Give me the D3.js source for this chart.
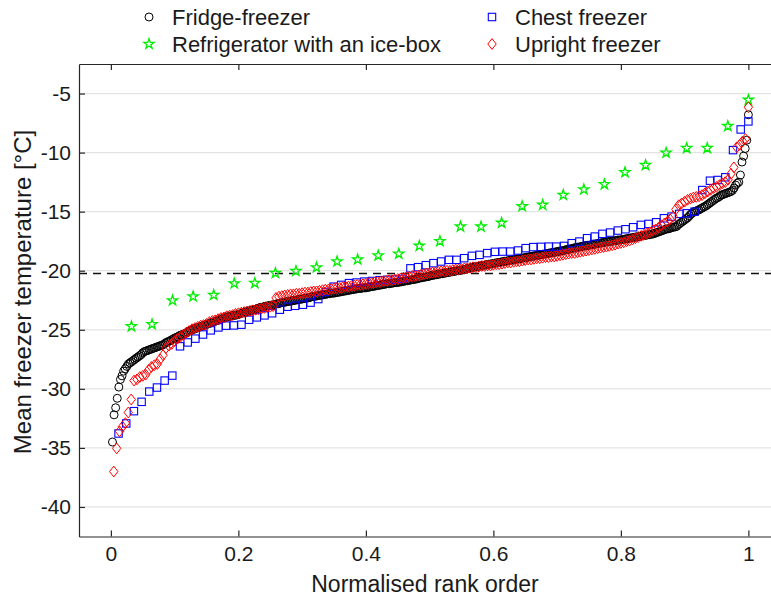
<!DOCTYPE html>
<html><head><meta charset="utf-8">
<script src="https://cdn.jsdelivr.net/npm/d3@7"></script>
<style>body{margin:0;background:#fff} svg{display:block} text{font-family:"Liberation Sans",Arial,Helvetica,sans-serif;fill:#1a1a1a}</style>
</head><body>
<svg id="c" width="771" height="603"></svg>
<script>
// ---------- DATA ----------
const seriesNames = ["Fridge-freezer", "Refrigerator with an ice-box", "Chest freezer", "Upright freezer"];
const xTicks = [0, 0.2, 0.4, 0.6, 0.8, 1];
const yTicks = [-40, -35, -30, -25, -20, -15, -10, -5];
const referenceTemp = -20.24;

const fridgeFreezer = [
-34.5,-32.2,-31.6,-30.8,-29.85,-29.2,-28.9,-28.5,-28.3,-28.1,-27.9,-27.8,-27.7,-27.6,-27.5,-27.4,-27.3,-27.2,-27.1,-26.95,
-26.85,-26.8,-26.75,-26.7,-26.65,-26.6,-26.55,-26.5,-26.45,-26.4,-26.35,-26.3,-26.25,-26.15,-26.05,-26.0,-25.95,-25.85,-25.8,-25.7,
-25.65,-25.6,-25.5,-25.45,-25.4,-25.35,-25.3,-25.2,-25.1,-25.05,-25.0,-24.95,-24.9,-24.85,-24.8,-24.75,-24.7,-24.65,-24.6,-24.55,
-24.5,-24.45,-24.4,-24.35,-24.3,-24.25,-24.2,-24.15,-24.1,-24.05,-24.0,-23.95,-23.9,-23.9,-23.85,-23.8,-23.8,-23.75,-23.75,-23.7,
-23.65,-23.6,-23.55,-23.5,-23.5,-23.45,-23.4,-23.35,-23.3,-23.3,-23.25,-23.2,-23.15,-23.1,-23.1,-23.05,-23.0,-23.0,-22.95,-22.95,
-22.9,-22.9,-22.85,-22.8,-22.8,-22.75,-22.7,-22.7,-22.65,-22.65,-22.6,-22.6,-22.55,-22.55,-22.5,-22.5,-22.45,-22.45,-22.4,-22.4,
-22.35,-22.35,-22.3,-22.3,-22.25,-22.2,-22.2,-22.15,-22.15,-22.1,-22.1,-22.05,-22.05,-22.0,-22.0,-21.95,-21.95,-21.9,-21.9,-21.9,
-21.85,-21.85,-21.8,-21.8,-21.75,-21.75,-21.7,-21.7,-21.65,-21.65,-21.6,-21.6,-21.55,-21.55,-21.5,-21.5,-21.5,-21.45,-21.45,-21.45,
-21.4,-21.4,-21.35,-21.35,-21.3,-21.3,-21.25,-21.25,-21.2,-21.2,-21.15,-21.15,-21.1,-21.1,-21.1,-21.05,-21.05,-21.0,-21.0,-21.0,
-20.95,-20.95,-20.9,-20.9,-20.85,-20.85,-20.8,-20.8,-20.75,-20.75,-20.7,-20.7,-20.65,-20.6,-20.6,-20.55,-20.55,-20.5,-20.5,-20.45,
-20.4,-20.4,-20.35,-20.35,-20.3,-20.3,-20.25,-20.25,-20.2,-20.2,-20.15,-20.15,-20.1,-20.1,-20.05,-20.05,-20.0,-20.0,-19.95,-19.95,
-19.9,-19.9,-19.85,-19.8,-19.8,-19.75,-19.7,-19.7,-19.65,-19.65,-19.6,-19.6,-19.55,-19.55,-19.5,-19.5,-19.45,-19.45,-19.4,-19.4,
-19.35,-19.35,-19.3,-19.3,-19.25,-19.25,-19.2,-19.2,-19.15,-19.15,-19.1,-19.1,-19.05,-19.05,-19.0,-19.0,-18.95,-18.95,-18.9,-18.9,
-18.85,-18.85,-18.8,-18.8,-18.75,-18.75,-18.7,-18.7,-18.65,-18.65,-18.6,-18.6,-18.55,-18.55,-18.5,-18.5,-18.45,-18.45,-18.4,-18.4,
-18.35,-18.35,-18.3,-18.3,-18.25,-18.2,-18.2,-18.15,-18.15,-18.1,-18.05,-18.05,-18.0,-18.0,-17.95,-17.95,-17.9,-17.9,-17.85,-17.85,
-17.8,-17.8,-17.75,-17.75,-17.7,-17.7,-17.65,-17.65,-17.6,-17.6,-17.55,-17.55,-17.5,-17.5,-17.5,-17.45,-17.45,-17.4,-17.4,-17.4,
-17.35,-17.35,-17.3,-17.3,-17.25,-17.25,-17.2,-17.2,-17.15,-17.15,-17.1,-17.1,-17.05,-17.05,-17.0,-17.0,-16.95,-16.95,-16.9,-16.9,
-16.85,-16.8,-16.75,-16.7,-16.65,-16.6,-16.55,-16.5,-16.45,-16.45,-16.4,-16.35,-16.3,-16.3,-16.25,-16.1,-16.0,-15.9,-15.8,-15.7,
-15.6,-15.5,-15.35,-15.2,-15.1,-15.0,-14.95,-14.9,-14.85,-14.75,-14.7,-14.6,-14.55,-14.45,-14.35,-14.25,-14.15,-14.05,-13.95,-13.85,
-13.8,-13.7,-13.6,-13.55,-13.5,-13.45,-13.4,-13.35,-13.3,-13.2,-13.0,-12.75,-12.6,-12.5,-11.9,-10.8,-10.3,-9.65,-8.95,-6.8
];

const iceBoxFridge = [
-24.71,-24.54,-22.52,-22.18,-22.06,-21.08,-21.05,-20.2,-20.03,-19.73,
-19.22,-19.05,-18.72,-18.57,-17.9,-17.5,-16.27,-16.27,-15.95,-14.54,
-14.43,-13.59,-13.12,-12.69,-11.67,-11.06,-10.02,-9.62,-9.62,-7.76,-5.54
];

const chestFreezer = [
-33.78,-32.93,-31.89,-31.1,-30.23,-29.89,-29.3,-28.88,-26.4,-26.07,
-25.75,-25.4,-25.05,-24.8,-24.65,-24.63,-24.57,-24.15,-23.95,-23.78,
-23.6,-23.3,-23.05,-22.97,-22.88,-22.7,-22.4,-21.8,-21.35,-21.2,
-21.05,-21.0,-20.92,-20.87,-20.8,-20.77,-20.75,-20.69,-19.8,-19.7,
-19.53,-19.36,-19.22,-19.08,-19.08,-18.94,-18.74,-18.66,-18.51,-18.4,
-18.38,-18.38,-18.29,-18.09,-18.0,-17.98,-17.96,-17.96,-17.9,-17.67,
-17.53,-17.25,-17.11,-16.88,-16.77,-16.6,-16.49,-16.32,-16.12,-16.04,
-15.9,-15.56,-15.42,-15.19,-15.14,-15.0,-13.17,-12.38,-12.32,-12.09,
-9.79,-8.04,-7.36
];

const uprightFreezer = [
-37.0,-35.04,-33.6,-33.2,-32.9,-32.0,-30.9,-29.3,-29.2,-29.0,
-28.9,-28.8,-28.4,-28.15,-28.0,-27.9,-27.5,-27.15,-26.55,-26.35,
-26.2,-25.95,-25.75,-25.6,-25.45,-25.25,-25.1,-24.95,-24.85,-24.75,
-24.65,-24.6,-24.5,-24.35,-24.25,-24.2,-24.1,-24.0,-23.95,-23.85,
-23.8,-23.75,-23.65,-23.6,-23.55,-23.5,-23.45,-23.4,-23.35,-23.3,
-23.25,-23.2,-23.15,-23.1,-23.05,-23.0,-22.3,-22.2,-22.15,-22.1,
-22.05,-22.0,-22.0,-21.95,-21.95,-21.9,
-21.85,-21.85,-21.8,-21.75,-21.75,-21.7,-21.65,-21.6,-21.6,-21.55,-21.5,
-21.45,-21.45,-21.4,-21.35,-21.35,-21.3,-21.25,-21.2,-21.2,-21.15,-21.1,
-21.05,-21.05,-21.0,-20.95,-20.95,-20.9,-20.85,-20.8,-20.8,-20.75,-20.7,
-20.65,-20.6,-20.55,-20.5,-20.45,-20.45,-20.4,-20.35,-20.3,-20.25,-20.2,
-20.15,-20.15,-20.1,-20.05,-20.05,-20.0,-20.0,-19.95,-19.9,-19.9,-19.85,
-19.8,-19.8,-19.75,-19.7,-19.7,-19.65,-19.6,-19.6,-19.55,-19.55,-19.5,
-19.45,-19.45,-19.4,-19.35,-19.3,-19.3,-19.25,-19.2,-19.2,-19.15,-19.1,
-19.05,-19.05,-19.0,-18.95,-18.95,-18.9,-18.85,-18.85,-18.8,-18.8,-18.75,
-18.7,-18.65,-18.6,-18.55,-18.5,-18.5,-18.45,-18.4,-18.35,-18.3,-18.25,
-18.2,-18.15,-18.1,-18.05,-18.0,-17.95,-17.9,-17.85,-17.8,-17.7,-17.65,
-17.6,-17.5,-17.45,-17.35,-17.25,-17.15,-17.05,-16.95,-16.85,-16.75,-16.6,
-16.5,-16.35,-16.15,-16.0,-15.85,-15.65,-15.4,-14.8,-14.45,-14.3,-14.15,
-14.0,-13.9,-13.8,-13.75,-13.7,-13.6,-13.45,-13.3,-13.15,-13.0,-12.9,
-12.75,-12.6,-12.5,-12.3,-11.8,-11.25,-9.55,-9.35,-9.05,-8.85,-6.16
];

// ---------- CHART ----------
const svg = d3.select("#c");
const L = 79, T = 64, B = 536.5;
const x = d3.scaleLinear().domain([-0.05, 1.05]).range([L, L + 1.1 * 637.5]);
const y = d3.scaleLinear().domain([-42.5, -2.5]).range([B, T]);
const R = x(1.05);
const axisCol = "#262626";

// grid
svg.append("g").selectAll("line").data(yTicks).join("line")
  .attr("x1", L).attr("x2", R).attr("y1", d => y(d)).attr("y2", d => y(d))
  .attr("stroke", "#e3e3e3").attr("stroke-width", 1.2);

// reference dashed line
svg.append("line").attr("x1", L).attr("x2", R)
  .attr("y1", y(referenceTemp)).attr("y2", y(referenceTemp))
  .attr("stroke", "#111").attr("stroke-width", 1.6).attr("stroke-dasharray", "8,6");

// axes
const fs = 21;
const gx = svg.append("g").attr("transform", `translate(0,${B})`)
  .call(d3.axisBottom(x).tickValues(xTicks).tickSize(-6).tickSizeOuter(0).tickPadding(10).tickFormat(d => String(d)));
const gxt = svg.append("g").attr("transform", `translate(0,${T})`)
  .call(d3.axisTop(x).tickValues(xTicks).tickSize(-6).tickSizeOuter(0).tickFormat(""));
const gy = svg.append("g").attr("transform", `translate(${L},0)`)
  .call(d3.axisLeft(y).tickValues(yTicks).tickSize(-6).tickSizeOuter(0).tickPadding(8).tickFormat(d => String(d)));
[gx, gxt, gy].forEach(g => {
  g.select(".domain").attr("stroke", axisCol).attr("stroke-width", 1.2);
  g.selectAll(".tick line").attr("stroke", axisCol).attr("stroke-width", 1.2);
  g.selectAll(".tick text").attr("font-size", fs).attr("fill", "#1a1a1a")
   .style("font-family", '"Liberation Sans",Arial,sans-serif');
});

// axis labels
svg.append("text").attr("x", 425).attr("y", 592).attr("text-anchor", "middle")
  .attr("font-size", 23).text("Normalised rank order");
svg.append("text").attr("transform", "translate(31,292) rotate(-90)").attr("text-anchor", "middle")
  .attr("font-size", 24).text("Mean freezer temperature [°C]");

// markers
const starPath = d3.symbol().type(d3.symbolStar).size(32)();
const diamondPath = "M0,-5.4L4.2,0L0,5.4L-4.2,0Z";
const cR = 4, sq = 7.4;
function drawSeries(vals, kind) {
  const n = vals.length;
  const g = svg.append("g");
  const pts = vals.map((v, i) => ({ r: (i + 1) / n, v }));
  if (kind === "circle") {
    g.selectAll("circle").data(pts).join("circle")
      .attr("cx", d => x(d.r)).attr("cy", d => y(d.v)).attr("r", cR)
      .attr("fill", "none").attr("stroke", "#000").attr("stroke-width", 1);
  } else if (kind === "square") {
    g.selectAll("rect").data(pts).join("rect")
      .attr("x", d => x(d.r) - sq / 2).attr("y", d => y(d.v) - sq / 2).attr("width", sq).attr("height", sq)
      .attr("fill", "none").attr("stroke", "#0000ff").attr("stroke-width", 1.1);
  } else if (kind === "star") {
    g.selectAll("path").data(pts).join("path").attr("d", starPath)
      .attr("transform", d => `translate(${x(d.r)},${y(d.v)})`)
      .attr("fill", "none").attr("stroke", "#00ee00").attr("stroke-width", 1.3);
  } else {
    g.selectAll("path").data(pts).join("path").attr("d", diamondPath)
      .attr("transform", d => `translate(${x(d.r)},${y(d.v)})`)
      .attr("fill", "none").attr("stroke", "#ff0000").attr("stroke-width", 1);
  }
}
drawSeries(fridgeFreezer, "circle");
drawSeries(iceBoxFridge, "star");
drawSeries(chestFreezer, "square");
drawSeries(uprightFreezer, "diamond");

// legend
const legend = [
  { name: seriesNames[0], kind: "circle", mx: 149, my: 17 },
  { name: seriesNames[1], kind: "star", mx: 149, my: 44 },
  { name: seriesNames[2], kind: "square", mx: 492, my: 17 },
  { name: seriesNames[3], kind: "diamond", mx: 492, my: 44 }
];
const lg = svg.append("g");
legend.forEach(e => {
  const m = lg.append("g").attr("transform", `translate(${e.mx},${e.my})`);
  if (e.kind === "circle") m.append("circle").attr("r", cR).attr("fill", "none").attr("stroke", "#000");
  else if (e.kind === "square") m.append("rect").attr("x", -sq / 2).attr("y", -sq / 2).attr("width", sq).attr("height", sq).attr("fill", "none").attr("stroke", "#0000ff").attr("stroke-width", 1.1);
  else if (e.kind === "star") m.append("path").attr("d", starPath).attr("fill", "none").attr("stroke", "#00ee00").attr("stroke-width", 1.3);
  else m.append("path").attr("d", diamondPath).attr("fill", "none").attr("stroke", "#ff0000");
  lg.append("text").attr("x", e.mx + 23).attr("y", e.my + 8).attr("font-size", 22).text(e.name);
});
</script>
</body></html>
